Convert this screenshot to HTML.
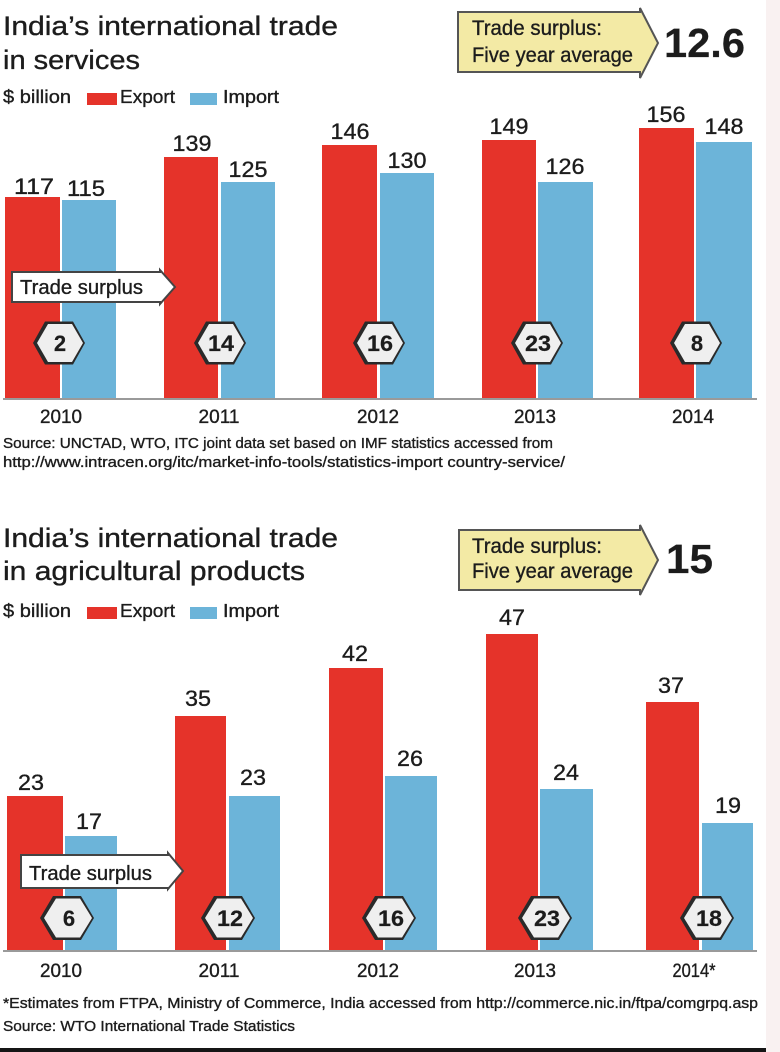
<!DOCTYPE html>
<html><head><meta charset="utf-8"><style>
html,body{margin:0;padding:0;background:#fff}
svg{display:block}
.t{font-family:"Liberation Sans Narrow","Liberation Sans",sans-serif;fill:#1c1c1c;stroke:#1c1c1c;stroke-width:0.35}
.b{font-weight:bold;stroke-width:0.2}
</style></head><body>
<svg width="780" height="1052" viewBox="0 0 780 1052" xmlns="http://www.w3.org/2000/svg">
<rect width="780" height="1052" fill="#fff"/>
<rect x="766" y="0" width="14" height="1052" fill="#f9f1f1"/>
<rect x="0" y="1048" width="766" height="4" fill="#151515"/>

<!-- ===== Chart 1 ===== -->
<text class="t" x="3" y="35" font-size="27" textLength="335" lengthAdjust="spacingAndGlyphs">India’s international trade</text>
<text class="t" x="3" y="69" font-size="27" textLength="137" lengthAdjust="spacingAndGlyphs">in services</text>

<text class="t" x="3" y="103" font-size="18" textLength="68" lengthAdjust="spacingAndGlyphs">$ billion</text>
<rect x="87" y="93" width="30" height="12" fill="#e5332a"/>
<text class="t" x="120" y="103" font-size="18" textLength="55" lengthAdjust="spacingAndGlyphs">Export</text>
<rect x="190" y="93" width="27" height="12" fill="#6cb4d9"/>
<text class="t" x="223" y="103" font-size="18" textLength="56" lengthAdjust="spacingAndGlyphs">Import</text>

<path d="M458,12 H640 V8 L658,43 L640,78 V72 H458 Z" fill="#f3eaa5" stroke="#555" stroke-width="2"/>
<text class="t" x="472" y="35" font-size="21" textLength="130" lengthAdjust="spacingAndGlyphs">Trade surplus:</text>
<text class="t" x="472" y="62" font-size="21" textLength="161" lengthAdjust="spacingAndGlyphs">Five year average</text>
<text class="t b" x="664" y="57" font-size="41" textLength="81" lengthAdjust="spacingAndGlyphs">12.6</text>

<!-- bars chart 1 (baseline 398) -->
<g>
<rect x="5" y="197" width="55" height="201" fill="#e5332a"/>
<rect x="62" y="200" width="54" height="198" fill="#6cb4d9"/>
<rect x="164" y="157" width="54" height="241" fill="#e5332a"/>
<rect x="221" y="182" width="54" height="216" fill="#6cb4d9"/>
<rect x="322" y="145" width="55" height="253" fill="#e5332a"/>
<rect x="380" y="173" width="54" height="225" fill="#6cb4d9"/>
<rect x="482" y="140" width="54" height="258" fill="#e5332a"/>
<rect x="538" y="182" width="55" height="216" fill="#6cb4d9"/>
<rect x="639" y="128" width="55" height="270" fill="#e5332a"/>
<rect x="696" y="142" width="56" height="256" fill="#6cb4d9"/>
</g>
<rect x="3" y="398" width="754" height="2" fill="#9a9a9a"/>

<g class="t" font-size="22" text-anchor="middle">
<text x="34" y="194" textLength="40" lengthAdjust="spacingAndGlyphs">117</text>
<text x="86" y="196" textLength="38" lengthAdjust="spacingAndGlyphs">115</text>
<text x="192" y="151" textLength="39" lengthAdjust="spacingAndGlyphs">139</text>
<text x="248" y="177" textLength="39" lengthAdjust="spacingAndGlyphs">125</text>
<text x="350" y="139" textLength="39" lengthAdjust="spacingAndGlyphs">146</text>
<text x="407" y="168" textLength="39" lengthAdjust="spacingAndGlyphs">130</text>
<text x="509" y="134" textLength="39" lengthAdjust="spacingAndGlyphs">149</text>
<text x="565" y="174" textLength="39" lengthAdjust="spacingAndGlyphs">126</text>
<text x="666" y="122" textLength="39" lengthAdjust="spacingAndGlyphs">156</text>
<text x="724" y="134" textLength="39" lengthAdjust="spacingAndGlyphs">148</text>
</g>

<path d="M12,272 H160 V270 L175,287 L160,304 V302 H12 Z" fill="#fff" stroke="#444" stroke-width="2"/>
<text class="t" x="20" y="294" font-size="20" textLength="123" lengthAdjust="spacingAndGlyphs">Trade surplus</text>

<!-- hexagons chart 1 -->
<g>
<polygon points="33,343 45,321.5 73,321.5 85,343 73,364.5 45,364.5" fill="#2a2a2a"/>
<polygon points="37,343 48,324 72,324 83,343 72,362 48,362" fill="#efefef"/>
<polygon points="194,343 206,321.5 234,321.5 246,343 234,364.5 206,364.5" fill="#2a2a2a"/>
<polygon points="198,343 209,324 233,324 244,343 233,362 209,362" fill="#efefef"/>
<polygon points="353,343 365,321.5 393,321.5 405,343 393,364.5 365,364.5" fill="#2a2a2a"/>
<polygon points="357,343 368,324 392,324 403,343 392,362 368,362" fill="#efefef"/>
<polygon points="511,343 523,321.5 551,321.5 563,343 551,364.5 523,364.5" fill="#2a2a2a"/>
<polygon points="515,343 526,324 550,324 561,343 550,362 526,362" fill="#efefef"/>
<polygon points="670,343 682,321.5 710,321.5 722,343 710,364.5 682,364.5" fill="#2a2a2a"/>
<polygon points="674,343 685,324 709,324 720,343 709,362 685,362" fill="#efefef"/>
</g>
<g class="t b" font-size="22" text-anchor="middle">
<text x="60" y="351">2</text>
<text x="221" y="351" textLength="26" lengthAdjust="spacingAndGlyphs">14</text>
<text x="380" y="351" textLength="26" lengthAdjust="spacingAndGlyphs">16</text>
<text x="538" y="351" textLength="26" lengthAdjust="spacingAndGlyphs">23</text>
<text x="697" y="351">8</text>
</g>

<g class="t" font-size="19" text-anchor="middle">
<text x="61" y="423" textLength="42" lengthAdjust="spacingAndGlyphs">2010</text>
<text x="219" y="423" textLength="41" lengthAdjust="spacingAndGlyphs">2011</text>
<text x="378" y="423" textLength="42" lengthAdjust="spacingAndGlyphs">2012</text>
<text x="535" y="423" textLength="42" lengthAdjust="spacingAndGlyphs">2013</text>
<text x="693" y="423" textLength="42" lengthAdjust="spacingAndGlyphs">2014</text>
</g>

<text class="t" x="3" y="448" font-size="15" textLength="550" lengthAdjust="spacingAndGlyphs">Source: UNCTAD, WTO, ITC joint data set based on IMF statistics accessed from</text>
<text class="t" x="3" y="467" font-size="15" textLength="562" lengthAdjust="spacingAndGlyphs">http://www.intracen.org/itc/market-info-tools/statistics-import country-service/</text>

<!-- ===== Chart 2 ===== -->
<text class="t" x="3" y="547" font-size="27" textLength="335" lengthAdjust="spacingAndGlyphs">India’s international trade</text>
<text class="t" x="3" y="580" font-size="27" textLength="302" lengthAdjust="spacingAndGlyphs">in agricultural products</text>

<text class="t" x="3" y="617" font-size="18" textLength="68" lengthAdjust="spacingAndGlyphs">$ billion</text>
<rect x="87" y="607" width="30" height="12" fill="#e5332a"/>
<text class="t" x="120" y="617" font-size="18" textLength="55" lengthAdjust="spacingAndGlyphs">Export</text>
<rect x="190" y="607" width="27" height="12" fill="#6cb4d9"/>
<text class="t" x="223" y="617" font-size="18" textLength="56" lengthAdjust="spacingAndGlyphs">Import</text>

<path d="M459,530 H640 V525 L658,560 L640,595 V590 H459 Z" fill="#f3eaa5" stroke="#555" stroke-width="2"/>
<text class="t" x="472" y="553" font-size="21" textLength="130" lengthAdjust="spacingAndGlyphs">Trade surplus:</text>
<text class="t" x="472" y="578" font-size="21" textLength="161" lengthAdjust="spacingAndGlyphs">Five year average</text>
<text class="t b" x="666" y="573" font-size="41" textLength="47" lengthAdjust="spacingAndGlyphs">15</text>

<!-- bars chart 2 (baseline 950) -->
<g>
<rect x="7" y="796" width="56" height="154" fill="#e5332a"/>
<rect x="65" y="836" width="52" height="114" fill="#6cb4d9"/>
<rect x="175" y="716" width="51" height="234" fill="#e5332a"/>
<rect x="229" y="796" width="51" height="154" fill="#6cb4d9"/>
<rect x="329" y="668" width="54" height="282" fill="#e5332a"/>
<rect x="385" y="776" width="52" height="174" fill="#6cb4d9"/>
<rect x="486" y="634" width="52" height="316" fill="#e5332a"/>
<rect x="540" y="789" width="53" height="161" fill="#6cb4d9"/>
<rect x="646" y="702" width="53" height="248" fill="#e5332a"/>
<rect x="702" y="823" width="51" height="127" fill="#6cb4d9"/>
</g>
<rect x="3" y="950" width="754" height="2" fill="#9a9a9a"/>

<g class="t" font-size="22" text-anchor="middle">
<text x="31" y="790" textLength="26" lengthAdjust="spacingAndGlyphs">23</text>
<text x="89" y="829" textLength="26" lengthAdjust="spacingAndGlyphs">17</text>
<text x="198" y="706" textLength="26" lengthAdjust="spacingAndGlyphs">35</text>
<text x="253" y="785" textLength="26" lengthAdjust="spacingAndGlyphs">23</text>
<text x="355" y="661" textLength="26" lengthAdjust="spacingAndGlyphs">42</text>
<text x="410" y="766" textLength="26" lengthAdjust="spacingAndGlyphs">26</text>
<text x="512" y="625" textLength="26" lengthAdjust="spacingAndGlyphs">47</text>
<text x="566" y="780" textLength="26" lengthAdjust="spacingAndGlyphs">24</text>
<text x="671" y="693" textLength="26" lengthAdjust="spacingAndGlyphs">37</text>
<text x="728" y="813" textLength="26" lengthAdjust="spacingAndGlyphs">19</text>
</g>

<path d="M21,855 H168 V853 L183,871 L168,889 V888 H21 Z" fill="#fff" stroke="#444" stroke-width="2"/>
<text class="t" x="29" y="880" font-size="20" textLength="123" lengthAdjust="spacingAndGlyphs">Trade surplus</text>

<!-- hexagons chart 2 -->
<g>
<polygon points="40,918 53,896 81,896 94,918 81,940 53,940" fill="#2a2a2a"/>
<polygon points="44,918 56,898.5 80,898.5 92,918 80,937.5 56,937.5" fill="#efefef"/>
<polygon points="201,918 214,896 242,896 255,918 242,940 214,940" fill="#2a2a2a"/>
<polygon points="205,918 217,898.5 241,898.5 253,918 241,937.5 217,937.5" fill="#efefef"/>
<polygon points="362,918 375,896 403,896 416,918 403,940 375,940" fill="#2a2a2a"/>
<polygon points="366,918 378,898.5 402,898.5 414,918 402,937.5 378,937.5" fill="#efefef"/>
<polygon points="518,918 531,896 559,896 572,918 559,940 531,940" fill="#2a2a2a"/>
<polygon points="522,918 534,898.5 558,898.5 570,918 558,937.5 534,937.5" fill="#efefef"/>
<polygon points="680,918 693,896 721,896 734,918 721,940 693,940" fill="#2a2a2a"/>
<polygon points="684,918 696,898.5 720,898.5 732,918 720,937.5 696,937.5" fill="#efefef"/>
</g>
<g class="t b" font-size="22" text-anchor="middle">
<text x="69" y="926">6</text>
<text x="230" y="926" textLength="26" lengthAdjust="spacingAndGlyphs">12</text>
<text x="391" y="926" textLength="26" lengthAdjust="spacingAndGlyphs">16</text>
<text x="547" y="926" textLength="26" lengthAdjust="spacingAndGlyphs">23</text>
<text x="709" y="926" textLength="26" lengthAdjust="spacingAndGlyphs">18</text>
</g>

<g class="t" font-size="19" text-anchor="middle">
<text x="61" y="977" textLength="42" lengthAdjust="spacingAndGlyphs">2010</text>
<text x="219" y="977" textLength="41" lengthAdjust="spacingAndGlyphs">2011</text>
<text x="378" y="977" textLength="42" lengthAdjust="spacingAndGlyphs">2012</text>
<text x="535" y="977" textLength="42" lengthAdjust="spacingAndGlyphs">2013</text>
<text x="694" y="977" textLength="43" lengthAdjust="spacingAndGlyphs">2014*</text>
</g>

<text class="t" x="3" y="1008" font-size="15" textLength="755" lengthAdjust="spacingAndGlyphs">*Estimates from FTPA, Ministry of Commerce, India accessed from http://commerce.nic.in/ftpa/comgrpq.asp</text>
<text class="t" x="3" y="1031" font-size="15" textLength="292" lengthAdjust="spacingAndGlyphs">Source: WTO International Trade Statistics</text>
</svg>
</body></html>
